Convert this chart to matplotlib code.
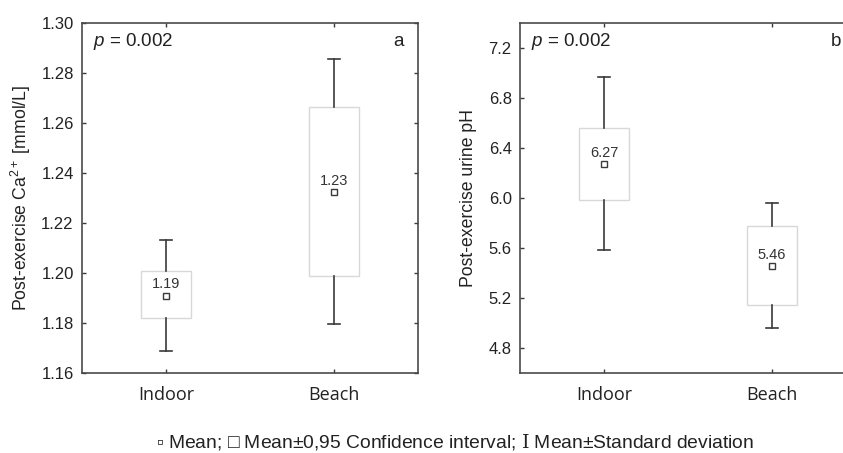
import matplotlib
matplotlib.use("Agg")
import matplotlib.pyplot as plt

plt.rcParams['font.family'] = ['Liberation Sans', 'DejaVu Sans']
plt.rcParams['mathtext.fontset'] = 'custom'
plt.rcParams['mathtext.rm'] = 'Liberation Sans'
plt.rcParams['mathtext.it'] = 'Liberation Sans:italic'

categories = ["Indoor", "Beach"]

# Panel a: post-exercise Ca2+
ca_mean = [1.191, 1.2323]
ca_ci_low = [1.182, 1.1989]
ca_ci_high = [1.2007, 1.2664]
ca_sd_low = [1.169, 1.1795]
ca_sd_high = [1.2133, 1.2857]
ca_labels = ["1.19", "1.23"]
ca_ticks = [1.16, 1.18, 1.20, 1.22, 1.24, 1.26, 1.28, 1.30]

# Panel b: post-exercise urine pH
ph_mean = [6.273, 5.455]
ph_ci_low = [5.981, 5.142]
ph_ci_high = [6.564, 5.773]
ph_sd_low = [5.583, 4.961]
ph_sd_high = [6.967, 5.96]
ph_labels = ["6.27", "5.46"]
ph_ticks = [4.8, 5.2, 5.6, 6.0, 6.4, 6.8, 7.2]

DARK = '#3a3a3a'
BOXC = '#d8d8d8'
TXT = '#222222'

fig = plt.figure(figsize=(8.43, 4.53), dpi=100)
W, H = 843, 453

def panel(left_px, mean, lo, hi, sdlo, sdhi, labels, ticks, ylim, tickfmt, ylabel, letter, label_off):
    ax = fig.add_axes([left_px / W, (H - 373) / H, 336 / W, 350 / H])
    x = list(range(len(categories)))
    for i in x:
        ax.bar(i, hi[i] - lo[i], bottom=lo[i], width=0.30, facecolor='white',
               edgecolor=BOXC, linewidth=1.0, zorder=2)
        ax.plot([i, i], [hi[i], sdhi[i]], color=DARK, lw=1.2, zorder=3)
        ax.plot([i, i], [sdlo[i], lo[i]], color=DARK, lw=1.2, zorder=3)
        for v in (sdlo[i], sdhi[i]):
            ax.plot([i - 0.033, i + 0.033], [v, v], color=DARK, lw=1.2, zorder=3)
        ax.plot(i, mean[i], marker='s', ms=4.5, mfc='white', mec=DARK, mew=1.0, zorder=4)
        ax.annotate(labels[i], (i, mean[i]), xytext=(0, 3), textcoords='offset points',
                    ha='center', va='bottom', fontsize=10.5, color='#333333')
    ax.set_xlim(-0.5, 1.5)
    ax.set_ylim(*ylim)
    ax.set_yticks(ticks)
    ax.set_yticklabels([tickfmt.format(t) for t in ticks])
    ax.set_xticks(x)
    ax.set_xticklabels(categories, family='Open Sans', fontsize=13, color=TXT)
    ax.tick_params(axis='both', direction='in', length=3, width=1, colors=DARK,
                   labelcolor=TXT, left=True, right=True, top=True, bottom=True)
    ax.tick_params(axis='y', labelsize=12, pad=6)
    ax.tick_params(axis='x', pad=9)
    for sp in ax.spines.values():
        sp.set_color('#4a4a4a')
        sp.set_linewidth(1.2)
    ax.set_ylabel(ylabel, fontsize=12.7, color=TXT, labelpad=label_off)
    ax.text(0.033, 0.948, '$p$ = 0.002', transform=ax.transAxes, fontsize=13.5,
            ha='left', va='center', color=TXT)
    ax.text(0.925, 0.948, letter, transform=ax.transAxes, fontsize=13.5,
            ha='left', va='center', color=TXT)
    return ax

panel(82, ca_mean, ca_ci_low, ca_ci_high, ca_sd_low, ca_sd_high, ca_labels,
      ca_ticks, (1.16, 1.30), '{:.2f}', 'Post-exercise Ca$^{2+}$ [mmol/L]', 'a', 6)
panel(520, ph_mean, ph_ci_low, ph_ci_high, ph_sd_low, ph_sd_high, ph_labels,
      ph_ticks, (4.6, 7.4), '{:.1f}', 'Post-exercise urine pH', 'b', 8)

fig.text(455 / W, 1 - 448 / H,
         '\u25ab Mean; \u25a1 Mean\u00b10,95 Confidence interval; $\\mathrm{I}$ Mean\u00b1Standard deviation',
         ha='center', va='baseline', fontsize=13.9, color=TXT, math_fontfamily='dejavuserif')

fig.savefig('out.png', dpi=100)
